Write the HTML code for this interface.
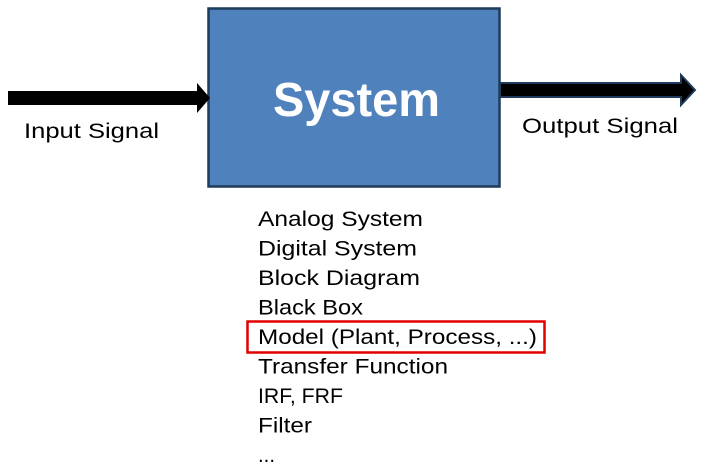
<!DOCTYPE html>
<html><head><meta charset="utf-8"><style>
html,body{margin:0;padding:0;background:#fff;}
svg{display:block;}
text{font-family:"Liberation Sans","Noto Sans CJK KR",sans-serif;fill:#000;}
</style></head><body>
<svg width="708" height="471" viewBox="0 0 708 471">
<rect x="208.5" y="8.5" width="291" height="178" fill="#4f81bd" stroke="#1f3a5a" stroke-width="2.5"/>
<text x="273" y="116" textLength="167" lengthAdjust="spacingAndGlyphs" font-size="48" font-weight="bold" style="fill:#fff">System</text>
<polygon points="8,91 197,91 197,83 210,98 197,113 197,105 8,105" fill="#000"/>
<polygon points="500,83 681,83 681,75 695,90 681,105 681,97 500,97" fill="#000" stroke="#1f3a5a" stroke-width="2"/>
<text x="24" y="138" font-size="21" textLength="135" lengthAdjust="spacingAndGlyphs">Input Signal</text>
<text x="522" y="133" font-size="21" textLength="156" lengthAdjust="spacingAndGlyphs">Output Signal</text>
<g font-size="21.5">
<text x="258" y="226" textLength="165" lengthAdjust="spacingAndGlyphs">Analog System</text>
<text x="258" y="255.5" textLength="159" lengthAdjust="spacingAndGlyphs">Digital System</text>
<text x="258" y="285" textLength="162" lengthAdjust="spacingAndGlyphs">Block Diagram</text>
<text x="258" y="314.5" textLength="105" lengthAdjust="spacingAndGlyphs">Black Box</text>
<text x="258" y="344" textLength="279" lengthAdjust="spacingAndGlyphs">Model (Plant, Process, ...)</text>
<text x="258" y="373.5" textLength="190" lengthAdjust="spacingAndGlyphs">Transfer Function</text>
<text x="258" y="403" textLength="85" lengthAdjust="spacingAndGlyphs">IRF, FRF</text>
<text x="258" y="432.5" textLength="54" lengthAdjust="spacingAndGlyphs">Filter</text>
<text x="258" y="462" textLength="17" lengthAdjust="spacingAndGlyphs">...</text>
</g>
<rect x="247.5" y="321.5" width="297" height="31" fill="none" stroke="#e00000" stroke-width="2.5"/>
</svg>
</body></html>
